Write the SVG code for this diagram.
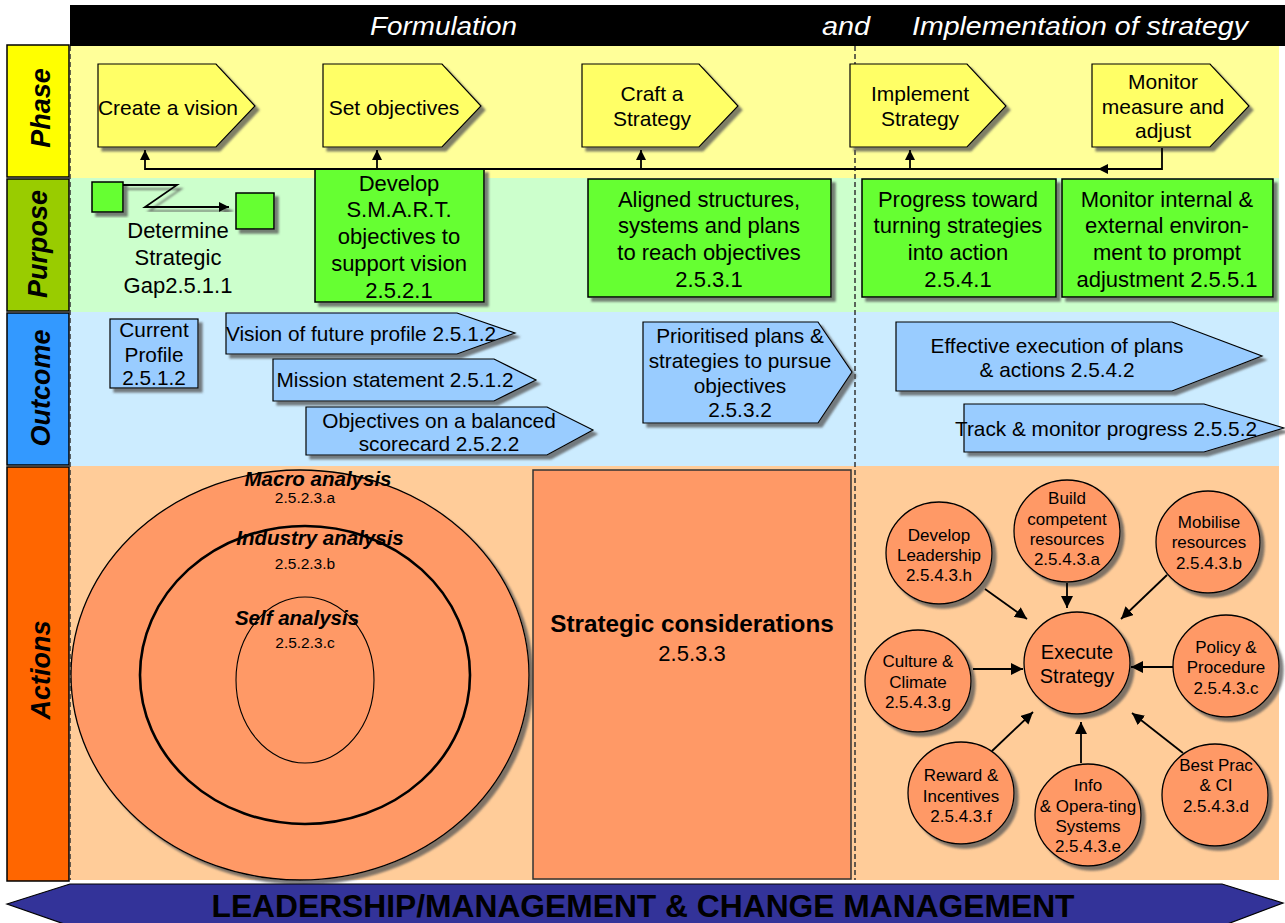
<svg xmlns="http://www.w3.org/2000/svg" width="1285" height="923" viewBox="0 0 1285 923">
  <defs>
    <filter id="shadow" x="-10%" y="-10%" width="130%" height="130%">
      <feDropShadow dx="4" dy="4" stdDeviation="1" flood-color="#555" flood-opacity="0.75"/>
    </filter>
    <marker id="arrow" viewBox="0 0 10 10" refX="10" refY="5" markerWidth="10" markerHeight="10" markerUnits="userSpaceOnUse" orient="auto">
      <path d="M0,0 L10,5 L0,10 z" fill="#000"/>
    </marker>
    <marker id="arrowBig" viewBox="0 0 12 12" refX="12" refY="6" markerWidth="12" markerHeight="12" markerUnits="userSpaceOnUse" orient="auto">
      <path d="M0,0 L12,6 L0,12 z" fill="#000"/>
    </marker>
  </defs>
  <style>
    text { font-family: "Liberation Sans", Arial, sans-serif; fill: #000; }
    .c { text-anchor: middle; }
    .lane { font-size: 27px; font-weight: bold; font-style: italic; text-anchor: middle; }
    .hdr { font-size: 26px; font-style: italic; fill: #fff; }
    .ph { font-size: 21px; text-anchor: middle; }
    .pu { font-size: 22px; text-anchor: middle; }
    .oc { font-size: 20.8px; text-anchor: middle; }
    .ac { font-size: 17px; text-anchor: middle; }
    .ring { font-size: 20.5px; font-weight: bold; font-style: italic; text-anchor: middle; }
    .code { font-size: 15.5px; text-anchor: middle; }
    .phase { fill: #FFFF66; stroke: #000; stroke-width: 1.2; filter: url(#shadow); }
    .purpose { fill: #66FF33; stroke: #000; stroke-width: 1.5; filter: url(#shadow); }
    .outcome { fill: #99CCFF; stroke: #000; stroke-width: 1.2; filter: url(#shadow); }
    .action { fill: #FF9966; stroke: #000; stroke-width: 1.3; filter: url(#shadow); }
    .conn { fill: none; stroke: #000; stroke-width: 1.8; }
    .divider { stroke: #333; stroke-width: 1.5; stroke-dasharray: 5 3; }
  </style>

  <!-- swim-lane backgrounds -->
  <g id="lanes">
    <rect x="70" y="46" width="1209" height="132" fill="#FFFF99"/>
    <rect x="70" y="178" width="1209" height="134" fill="#CCFFCC"/>
    <rect x="70" y="312" width="1209" height="154" fill="#CCECFF"/>
    <rect x="70" y="466" width="1209" height="414" fill="#FFCC99"/>
  </g>

  <!-- header bar -->
  <g id="header">
    <rect x="70" y="5" width="1215" height="41" fill="#000"/>
    <text class="hdr" x="370" y="35" textLength="147" lengthAdjust="spacingAndGlyphs">Formulation</text>
    <text class="hdr" x="822" y="35" textLength="48" lengthAdjust="spacingAndGlyphs">and</text>
    <text class="hdr" x="912" y="35" textLength="336" lengthAdjust="spacingAndGlyphs">Implementation of strategy</text>
  </g>

  <!-- lane labels -->
  <g id="lane-phase">
    <rect x="7" y="45" width="62" height="132" fill="#FFFF00" stroke="#000" stroke-width="1.5"/>
    <text class="lane" transform="translate(50,108) rotate(-90)">Phase</text>
  </g>
  <g id="lane-purpose">
    <rect x="7" y="179" width="62" height="132" fill="#99CC00" stroke="#000" stroke-width="1.5"/>
    <text class="lane" transform="translate(47,244) rotate(-90)">Purpose</text>
  </g>
  <g id="lane-outcome">
    <rect x="7" y="313" width="62" height="152" fill="#3399FF" stroke="#000" stroke-width="1.5"/>
    <text class="lane" transform="translate(50,388) rotate(-90)">Outcome</text>
  </g>
  <g id="lane-actions">
    <rect x="7" y="467" width="62" height="414" fill="#FF6600" stroke="#000" stroke-width="1.5"/>
    <text class="lane" transform="translate(50,670) rotate(-90)">Actions</text>
  </g>

  <!-- dashed dividers -->
  <g id="dividers">
    <line class="divider" x1="70" y1="46" x2="70" y2="880"/>
    <line class="divider" x1="855" y1="46" x2="855" y2="880"/>
  </g>

  <!-- Phase row -->
  <g id="create-vision">
    <path class="phase" d="M98,64 H216 L255,106 L216,147 H98 Z"/>
    <text class="ph" x="168" y="115">Create a vision</text>
  </g>
  <g id="set-objectives">
    <path class="phase" d="M323,64 H442 L481,106 L442,147 H323 Z"/>
    <text class="ph" x="394" y="115">Set objectives</text>
  </g>
  <g id="craft-strategy">
    <path class="phase" d="M582,64 H699 L738,106 L699,147 H582 Z"/>
    <text class="ph" x="652" y="101">Craft a</text>
    <text class="ph" x="652" y="126">Strategy</text>
  </g>
  <g id="implement-strategy">
    <path class="phase" d="M850,64 H967 L1006,106 L967,147 H850 Z"/>
    <text class="ph" x="920" y="101">Implement</text>
    <text class="ph" x="920" y="126">Strategy</text>
  </g>
  <g id="monitor-adjust">
    <path class="phase" d="M1092,64 H1210 L1249,106 L1210,147 H1092 Z"/>
    <text class="ph" x="1163" y="89">Monitor</text>
    <text class="ph" x="1163" y="114">measure and</text>
    <text class="ph" x="1163" y="138">adjust</text>
  </g>

  <!-- Purpose row -->
  <g id="strategic-gap">
    <rect class="purpose" x="92" y="182" width="31" height="30"/>
    <rect class="purpose" x="236" y="193" width="38" height="36"/>
    <path d="M123,185 H177 L145,207 H229" fill="none" stroke="#000" stroke-width="1.8" marker-end="url(#arrow)" filter="url(#shadow)"/>
    <text class="pu" x="178" y="238">Determine</text>
    <text class="pu" x="178" y="265">Strategic</text>
    <text class="pu" x="178" y="293">Gap2.5.1.1</text>
  </g>
  <g id="smart-objectives">
    <rect class="purpose" x="315" y="169" width="169" height="133"/>
    <text class="pu" x="399" y="191">Develop</text>
    <text class="pu" x="399" y="217">S.M.A.R.T.</text>
    <text class="pu" x="399" y="244">objectives to</text>
    <text class="pu" x="399" y="271">support vision</text>
    <text class="pu" x="399" y="298">2.5.2.1</text>
  </g>
  <g id="aligned-structures">
    <rect class="purpose" x="588" y="179" width="243" height="118"/>
    <text class="pu" x="709" y="207">Aligned structures,</text>
    <text class="pu" x="709" y="233">systems and plans</text>
    <text class="pu" x="709" y="260">to reach objectives</text>
    <text class="pu" x="709" y="287">2.5.3.1</text>
  </g>
  <g id="progress-toward">
    <rect class="purpose" x="862" y="179" width="194" height="118"/>
    <text class="pu" x="958" y="207">Progress toward</text>
    <text class="pu" x="958" y="233">turning strategies</text>
    <text class="pu" x="958" y="260">into action</text>
    <text class="pu" x="958" y="287">2.5.4.1</text>
  </g>
  <g id="monitor-environment">
    <rect class="purpose" x="1062" y="179" width="211" height="118"/>
    <text class="pu" x="1167" y="207">Monitor internal &amp;</text>
    <text class="pu" x="1167" y="233">external environ-</text>
    <text class="pu" x="1167" y="260">ment to prompt</text>
    <text class="pu" x="1167" y="287">adjustment 2.5.5.1</text>
  </g>

  <!-- Outcome row -->
  <g id="current-profile">
    <rect class="outcome" x="110" y="319" width="88" height="69"/>
    <text class="oc" x="154" y="337">Current</text>
    <text class="oc" x="154" y="362">Profile</text>
    <text class="oc" x="154" y="385">2.5.1.2</text>
  </g>
  <g id="vision-profile">
    <path class="outcome" d="M226,313 H457 L515,333 L457,354 H226 Z"/>
    <text class="oc" x="361" y="341">Vision of future profile 2.5.1.2</text>
  </g>
  <g id="mission-statement">
    <path class="outcome" d="M273,359 H494 L536,380 L494,401 H273 Z"/>
    <text class="oc" x="395" y="387">Mission statement 2.5.1.2</text>
  </g>
  <g id="balanced-scorecard">
    <path class="outcome" d="M306,407 H547 L593,430 L547,455 H306 Z"/>
    <text class="oc" x="439" y="428">Objectives on a balanced</text>
    <text class="oc" x="439" y="451">scorecard 2.5.2.2</text>
  </g>
  <g id="prioritised-plans">
    <path class="outcome" d="M643,322 H818 L852,372 L818,423 H643 Z"/>
    <text class="oc" x="740" y="343">Prioritised plans &amp;</text>
    <text class="oc" x="740" y="368">strategies to pursue</text>
    <text class="oc" x="740" y="393">objectives</text>
    <text class="oc" x="740" y="417">2.5.3.2</text>
  </g>
  <g id="effective-execution">
    <path class="outcome" d="M896,322 H1172 L1262,356 L1172,391 H896 Z"/>
    <text class="oc" x="1057" y="353">Effective execution of plans</text>
    <text class="oc" x="1057" y="377">&amp; actions 2.5.4.2</text>
  </g>
  <g id="track-progress">
    <path class="outcome" d="M964,404 H1204 L1284,428 L1204,452 H964 Z"/>
    <text class="oc" x="1106" y="436">Track &amp; monitor progress 2.5.5.2</text>
  </g>

  <!-- Actions row: analysis rings -->
  <g id="macro-analysis">
    <ellipse class="action" cx="300" cy="675" rx="229" ry="205" stroke-width="1.5"/>
    <text class="ring" x="318" y="486">Macro analysis</text>
    <text class="code" x="305" y="503">2.5.2.3.a</text>
  </g>
  <g id="industry-analysis">
    <ellipse cx="305" cy="675" rx="165" ry="149" fill="#FF9966" stroke="#000" stroke-width="2.6"/>
    <text class="ring" x="320" y="545">Industry analysis</text>
    <text class="code" x="305" y="569">2.5.2.3.b</text>
  </g>
  <g id="self-analysis">
    <ellipse cx="305" cy="680" rx="69" ry="83" fill="#FF9966" stroke="#000" stroke-width="1.1"/>
    <text class="ring" x="297" y="625">Self analysis</text>
    <text class="code" x="305" y="648">2.5.2.3.c</text>
  </g>

  <g id="strategic-considerations">
    <rect x="533" y="470" width="318" height="409" fill="#FF9966" stroke="#333" stroke-width="1.5"/>
    <text x="692" y="632" text-anchor="middle" font-size="24.3" font-weight="bold">Strategic considerations</text>
    <text x="692" y="661" text-anchor="middle" font-size="22">2.5.3.3</text>
  </g>

  <!-- Actions row: execution drivers -->
  <g id="execute-strategy">
    <ellipse class="action" cx="1077" cy="663" rx="53" ry="51"/>
    <text x="1077" y="659" text-anchor="middle" font-size="20">Execute</text>
    <text x="1077" y="683" text-anchor="middle" font-size="20">Strategy</text>
  </g>
  <g id="develop-leadership">
    <ellipse class="action" cx="939" cy="553" rx="53" ry="51"/>
    <text class="ac" x="939" y="541">Develop</text>
    <text class="ac" x="939" y="561">Leadership</text>
    <text class="ac" x="939" y="581">2.5.4.3.h</text>
  </g>
  <g id="build-resources">
    <ellipse class="action" cx="1067" cy="531" rx="53" ry="51"/>
    <text class="ac" x="1067" y="504">Build</text>
    <text class="ac" x="1067" y="525">competent</text>
    <text class="ac" x="1067" y="545">resources</text>
    <text class="ac" x="1067" y="565">2.5.4.3.a</text>
  </g>
  <g id="mobilise-resources">
    <ellipse class="action" cx="1208" cy="542" rx="52" ry="51"/>
    <text class="ac" x="1209" y="528">Mobilise</text>
    <text class="ac" x="1209" y="548">resources</text>
    <text class="ac" x="1209" y="569">2.5.4.3.b</text>
  </g>
  <g id="policy-procedure">
    <ellipse class="action" cx="1226" cy="666" rx="53" ry="51"/>
    <text class="ac" x="1226" y="653">Policy &amp;</text>
    <text class="ac" x="1226" y="673">Procedure</text>
    <text class="ac" x="1226" y="694">2.5.4.3.c</text>
  </g>
  <g id="culture-climate">
    <ellipse class="action" cx="918" cy="681" rx="53" ry="51"/>
    <text class="ac" x="918" y="667">Culture &amp;</text>
    <text class="ac" x="918" y="688">Climate</text>
    <text class="ac" x="918" y="708">2.5.4.3.g</text>
  </g>
  <g id="reward-incentives">
    <ellipse class="action" cx="961" cy="793" rx="53" ry="51"/>
    <text class="ac" x="961" y="781">Reward &amp;</text>
    <text class="ac" x="961" y="802">Incentives</text>
    <text class="ac" x="961" y="822">2.5.4.3.f</text>
  </g>
  <g id="info-systems">
    <ellipse class="action" cx="1088" cy="815" rx="53" ry="51"/>
    <text class="ac" x="1088" y="791">Info</text>
    <text class="ac" x="1088" y="812">&amp; Opera-ting</text>
    <text class="ac" x="1088" y="832">Systems</text>
    <text class="ac" x="1088" y="852">2.5.4.3.e</text>
  </g>
  <g id="best-practice">
    <ellipse class="action" cx="1215" cy="795" rx="53" ry="51"/>
    <text class="ac" x="1216" y="771">Best Prac</text>
    <text class="ac" x="1216" y="791">&amp; CI</text>
    <text class="ac" x="1216" y="812">2.5.4.3.d</text>
  </g>

  <!-- connectors -->
  <g id="connectors">
    <path class="conn" d="M1162,148 V169 H145 V150" marker-end="url(#arrow)"/>
    <path class="conn" d="M377,169 V150" marker-end="url(#arrow)"/>
    <path class="conn" d="M641,169 V150" marker-end="url(#arrow)"/>
    <path class="conn" d="M910,169 V150" marker-end="url(#arrow)"/>
    <path class="conn" d="M1120,169 H1098" marker-end="url(#arrow)"/>

    <path class="conn" d="M985,589 L1027,619" marker-end="url(#arrowBig)"/>
    <path class="conn" d="M1067,583 V608" marker-end="url(#arrowBig)"/>
    <path class="conn" d="M1167,575 L1121,619" marker-end="url(#arrowBig)"/>
    <path class="conn" d="M1173,667 H1131" marker-end="url(#arrowBig)"/>
    <path class="conn" d="M973,669 H1023" marker-end="url(#arrowBig)"/>
    <path class="conn" d="M992,751 L1033,712" marker-end="url(#arrowBig)"/>
    <path class="conn" d="M1081,763 V722" marker-end="url(#arrowBig)"/>
    <path class="conn" d="M1183,753 L1132,713" marker-end="url(#arrowBig)"/>
  </g>

  <!-- leadership banner -->
  <g id="leadership-banner">
    <path d="M7,904 L70,884 H1222 L1283,903 L1222,926 H70 Z" fill="#333399" stroke="#000" stroke-width="1.2"/>
    <text x="643" y="917" text-anchor="middle" font-size="32" font-weight="bold" textLength="863" lengthAdjust="spacingAndGlyphs">LEADERSHIP/MANAGEMENT &amp; CHANGE MANAGEMENT</text>
  </g>
</svg>
